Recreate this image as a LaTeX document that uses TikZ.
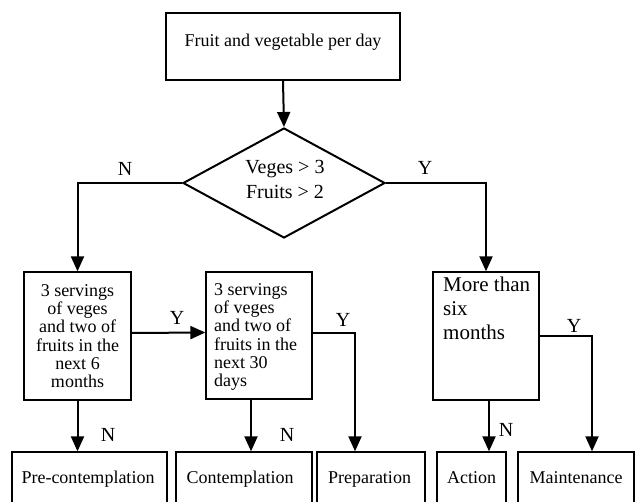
\documentclass[tikz,border=0pt]{standalone}
\usepackage{fontspec}
\setmainfont{Liberation Serif}
\usetikzlibrary{shapes.geometric,arrows.meta}

\tikzset{
  box/.style={draw, rectangle, line width=1.3pt, inner sep=0pt},
  arr/.style={line width=2pt, -{Triangle[width=13pt,length=15pt]}},
  wire/.style={line width=2pt},
  txt/.style={font=\fontsize{18}{18.3}\selectfont, inner sep=0pt},
  lbl/.style={font=\fontsize{20}{20}\selectfont, inner sep=0pt},
}

\begin{document}
\begin{tikzpicture}[x=1pt,y=-1pt]
  \useasboundingbox (0,0) rectangle (636,502);
  \clip (0,0) rectangle (636,502);

  % start box and decision
  \node[box, line width=2pt, minimum width=234pt, minimum height=67pt] (top) at (283,46.5) {};
  \node[txt, anchor=base] (toptxt) at (283,47) {Fruit and vegetable per day};

  \node[draw, diamond, line width=2pt, inner sep=0pt,
        minimum width=202pt, minimum height=110pt] (dia) at (284,183) {};
  \node[font=\fontsize{20}{25}\selectfont, align=center, inner sep=0pt] (diatxt) at (285,179)
       {Veges > 3\\Fruits > 2};

  % middle row of questions
  \node[box, minimum width=107pt, minimum height=128pt] (b1) at (77.5,336) {};
  \node[txt, align=center] (b1txt) at (77.5,336)
       {3 servings\\of veges\\and two of\\fruits in the\\next 6\\months};

  \node[box, minimum width=106pt, minimum height=127pt] (b2) at (259,335.5) {};
  \node[txt, align=left, anchor=west] (b2txt) at (214,337)
       {3 servings\\of veges\\and two of\\fruits in the\\next 30\\days};

  \node[box, minimum width=106pt, minimum height=128pt] (b4) at (486,336) {};
  \node[font=\fontsize{21}{24}\selectfont, align=left, inner sep=0pt, anchor=north west] (b4txt)
       at (443,277) {More than\\six\\months};

  % stages
  \node[box, minimum width=155pt, minimum height=56pt] (pre)   at (89.5,480) {};
  \node[box, minimum width=136pt, minimum height=56pt] (cont)  at (244,480) {};
  \node[box, minimum width=108pt, minimum height=56pt] (prep)  at (371,480) {};
  \node[box, minimum width=69pt,  minimum height=56pt] (act)   at (471.5,480) {};
  \node[box, minimum width=116pt, minimum height=56pt] (maint) at (576,480) {};

  \node[txt, anchor=base] (pretxt)   at (88,483)    {Pre-contemplation};
  \node[txt, anchor=base] (conttxt)  at (240,483)   {Contemplation};
  \node[txt, anchor=base] (preptxt)  at (369.5,483) {Preparation};
  \node[txt, anchor=base] (acttxt)   at (471.5,483) {Action};
  \node[txt, anchor=base] (mainttxt) at (576,483)   {Maintenance};

  % connectors
  \draw[arr] (top.south) -- (dia.north);
  \draw[arr] (dia.west) -| (b1.north);
  \draw[arr] (dia.east) -| (b4.north);
  \draw[arr] ([yshift=3pt]b1.east) -- ([yshift=3pt]b2.west);
  \draw[arr] ([yshift=2.5pt]b2.east) -| (prep.north -| 355,0);
  \draw[arr] (b4.east) -| (maint.north -| 592,0);
  \draw[arr] (b1.south) -- (b1.south |- pre.north);
  \draw[arr] ([xshift=-8pt]b2.south) -- ([xshift=-8pt]b2.south |- cont.north);
  \draw[arr] ([xshift=3pt]b4.south) -- ([xshift=3pt]b4.south |- act.north);

  % branch labels
  \node[lbl] (n1) at (125,169) {N};
  \node[lbl] (y1) at (425,168) {Y};
  \node[lbl] (y2) at (177,318) {Y};
  \node[lbl] (y3) at (343,320) {Y};
  \node[lbl] (y4) at (574,326) {Y};
  \node[lbl] (n2) at (108,435) {N};
  \node[lbl] (n3) at (287,435) {N};
  \node[lbl] (n4) at (506,430) {N};
\end{tikzpicture}
\end{document}
